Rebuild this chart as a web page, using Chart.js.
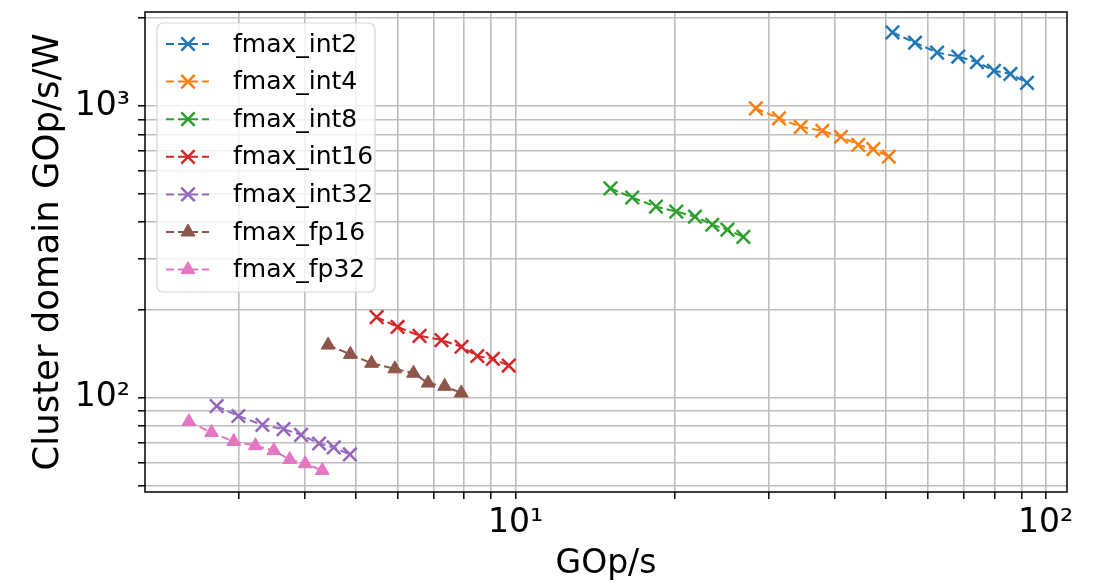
<!DOCTYPE html>
<html>
<head>
<meta charset="utf-8">
<script src="https://cdn.jsdelivr.net/npm/chart.js@4.4.0/dist/chart.umd.min.js"></script>
<style>
  html, body { margin: 0; padding: 0; background: #ffffff; }
  #wrap { width: 1094px; height: 584px; }
</style>
</head>
<body>
<div id="wrap"><canvas id="chart" width="1094" height="584"></canvas></div>
<script>
// series (x: GOp/s, y: GOp/s/W)
const seriesNames = ['fmax_int2', 'fmax_int4', 'fmax_int8', 'fmax_int16', 'fmax_int32', 'fmax_fp16', 'fmax_fp32'];
const seriesColors = ['#1f77b4', '#ff7f0e', '#2ca02c', '#d62728', '#9467bd', '#8c564b', '#e377c2'];
const seriesMarkers = ['crossRot', 'crossRot', 'crossRot', 'crossRot', 'crossRot', 'triangle', 'triangle'];

const int2X = [51.4, 56.7, 62.4, 68.4, 74.2, 79.9, 85.8, 92.2];
const int2Y = [1787, 1648, 1525, 1477, 1414, 1321, 1288, 1200];

const int4X = [28.4, 31.4, 34.5, 37.9, 41.1, 44.3, 47.3, 50.6];
const int4Y = [982, 907, 849, 823, 785, 736, 712, 671];

const int8X = [15.1, 16.6, 18.4, 20.1, 21.8, 23.5, 25.1, 26.9];
const int8Y = [522, 486, 452, 435, 418, 392, 377, 356];

const int16X = [5.47, 5.99, 6.59, 7.25, 7.91, 8.47, 9.06, 9.71];
const int16Y = [189.2, 175, 163.2, 157.8, 149.7, 139.2, 136, 129.1];

const int32X = [2.73, 3.0, 3.33, 3.65, 3.94, 4.26, 4.54, 4.87];
const int32Y = [93.7, 86.7, 80.8, 78.2, 74.7, 69.8, 67.7, 64.0];

const fp16X = [4.43, 4.88, 5.35, 5.92, 6.42, 6.84, 7.35, 7.90];
const fp16Y = [151.7, 141, 131.4, 125.8, 121.5, 112.4, 109.6, 104];

const fp32X = [2.42, 2.67, 2.94, 3.23, 3.50, 3.75, 4.01, 4.32];
const fp32Y = [82.9, 76.1, 70.9, 68.6, 66.0, 61.5, 59.5, 56.4];

const seriesX = [int2X, int4X, int8X, int16X, int32X, fp16X, fp32X];
const seriesY = [int2Y, int4Y, int8Y, int16Y, int32Y, fp16Y, fp32Y];

// ticks / gridlines (major + minor, as in the original)
const xTickValues = [3, 4, 5, 6, 7, 8, 9, 10, 20, 30, 40, 50, 60, 70, 80, 90, 100];
const xTickLabels = { 10: '10\u00B9', 100: '10\u00B2' };
const yTickValues = [50, 60, 70, 80, 90, 100, 200, 300, 400, 500, 600, 700, 800, 900, 1000, 2000];
const yTickLabels = { 100: '10\u00B2', 1000: '10\u00B3' };

const FONT = '"DejaVu Sans", "Liberation Sans", sans-serif';

// frame around the plot + matplotlib-style legend in the upper left
const frameAndLegend = {
    id: 'frameAndLegend',
    afterDatasetsDraw(chart) {
        const { ctx, chartArea: a } = chart;
        ctx.save();
        ctx.strokeStyle = '#000';
        ctx.lineWidth = 1.5;
        ctx.strokeRect(a.left, a.top, a.right - a.left, a.bottom - a.top);
        ctx.restore();
    },
    afterDraw(chart) {
        const { ctx, chartArea: a } = chart;
        const bx = a.left + 12;
        const by = a.top + 11;
        const bw = 218;
        const bh = 269;
        const rowH = 37.6;

        ctx.save();
        ctx.beginPath();
        ctx.roundRect(bx, by, bw, bh, 6);
        ctx.fillStyle = 'rgba(255,255,255,0.8)';
        ctx.fill();
        ctx.strokeStyle = '#d6d6d6';
        ctx.lineWidth = 1.2;
        ctx.stroke();

        chart.data.datasets.forEach((ds, i) => {
            const cy = by + 21 + i * rowH;
            ctx.setLineDash([8, 4]);
            ctx.strokeStyle = ds.borderColor;
            ctx.lineWidth = 2;
            ctx.beginPath();
            ctx.moveTo(bx + 9, cy);
            ctx.lineTo(bx + 52, cy);
            ctx.stroke();
            ctx.setLineDash([]);
            ctx.fillStyle = ds.borderColor;
            ctx.lineWidth = ds.pointBorderWidth;
            Chart.helpers.drawPoint(ctx, {
                pointStyle: ds.pointStyle,
                radius: ds.pointRadius,
                rotation: 0,
                borderWidth: ds.pointBorderWidth
            }, bx + 31, cy);

            ctx.fillStyle = '#000';
            ctx.font = '25px ' + FONT;
            ctx.textBaseline = 'middle';
            ctx.textAlign = 'left';
            ctx.fillText(ds.label, bx + 76, cy + 1);
        });
        ctx.restore();
    }
};

const datasets = seriesNames.map((name, i) => ({
    label: name,
    data: seriesX[i].map((x, j) => ({ x: x, y: seriesY[i][j] })),
    borderColor: seriesColors[i],
    backgroundColor: seriesColors[i],
    borderWidth: 2,
    borderDash: [8, 4],
    pointStyle: seriesMarkers[i],
    pointRadius: seriesMarkers[i] === 'triangle' ? 8 : 9.5,
    pointBorderWidth: seriesMarkers[i] === 'triangle' ? 1 : 2.5,
    pointBackgroundColor: seriesColors[i],
    pointBorderColor: seriesColors[i],
    pointHoverRadius: 9,
    showLine: true,
    tension: 0,
    fill: false
}));

const gridStyle = {
    color: '#bebebe',
    lineWidth: 1.6,
    tickColor: '#000',
    tickLength: 7,
    tickWidth: 1.5
};

new Chart(document.getElementById('chart'), {
    type: 'line',
    data: { datasets: datasets },
    plugins: [frameAndLegend],
    options: {
        responsive: false,
        animation: false,
        layout: { padding: { top: 7, right: 27, left: 0, bottom: 0 } },
        plugins: {
            legend: { display: false },
            tooltip: { enabled: false }
        },
        scales: {
            x: {
                type: 'logarithmic',
                min: 2.0,
                max: 109.7,
                afterBuildTicks: (scale) => {
                    scale.ticks = xTickValues.map(v => ({ value: v }));
                },
                afterFit: (scale) => {
                    scale.height = 92;
                    scale.paddingLeft = 0;
                    scale.paddingRight = 0;
                },
                grid: gridStyle,
                border: { display: false },
                ticks: {
                    autoSkip: false,
                    maxRotation: 0,
                    padding: 5,
                    color: '#000',
                    font: { family: FONT, size: 33 },
                    callback: (value) => xTickLabels[value] || ''
                },
                title: {
                    display: true,
                    text: 'GOp/s',
                    color: '#000',
                    font: { family: FONT, size: 33 },
                    padding: { top: 0, bottom: 0 }
                }
            },
            y: {
                type: 'logarithmic',
                min: 47.6,
                max: 2100,
                afterBuildTicks: (scale) => {
                    scale.ticks = yTickValues.map(v => ({ value: v }));
                },
                afterFit: (scale) => {
                    scale.width = 145;
                    scale.paddingTop = 0;
                    scale.paddingBottom = 0;
                },
                grid: gridStyle,
                border: { display: false },
                ticks: {
                    autoSkip: false,
                    padding: 8,
                    color: '#000',
                    font: { family: FONT, size: 33 },
                    callback: (value) => yTickLabels[value] || ''
                },
                title: {
                    display: true,
                    text: 'Cluster domain GOp/s/W',
                    color: '#000',
                    font: { family: FONT, size: 35.5 },
                    padding: { top: 27, bottom: 0 }
                }
            }
        }
    }
});
</script>
</body>
</html>
